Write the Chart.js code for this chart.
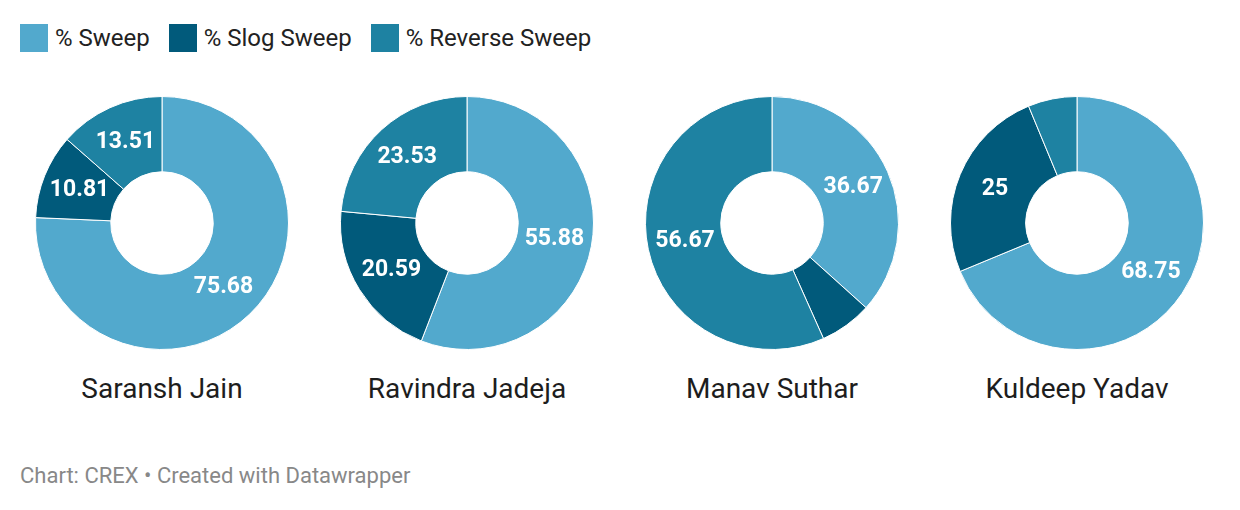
<!DOCTYPE html>
<html lang="en">
<head>
    <meta charset="UTF-8">
    <title>Sweep shots by bowler</title>
    <script src="https://cdn.jsdelivr.net/npm/chart.js"></script>
    <style>
        body { margin: 0; background: #fff; font-family: Roboto, sans-serif; }
        #wrap { position: relative; width: 1240px; height: 510px; overflow: hidden; }
        #legend { position: absolute; left: 20px; top: 24px; display: flex; align-items: center; }
        .item { display: flex; align-items: center; margin-right: 19px; font-size: 24px; color: #222; }
        .box { width: 28px; height: 28px; margin-right: 7px; }
        .pie { position: absolute; top: 95px; width: 256px; height: 256px; }
        .name { position: absolute; top: 372px; width: 300px; text-align: center; font-size: 28px; color: #1d1d1d; }
        #footer { position: absolute; left: 20px; top: 463px; font-size: 22px; color: #888; }
    </style>
</head>
<body>
<div id="wrap">
    <div id="legend"></div>
    <div id="footer">Chart: CREX • Created with Datawrapper</div>
</div>

<script>
    // data
    const players = ['Saransh Jain', 'Ravindra Jadeja', 'Manav Suthar', 'Kuldeep Yadav'];
    const shotTypes = ['% Sweep', '% Slog Sweep', '% Reverse Sweep'];
    const sweep = [75.68, 55.88, 36.67, 68.75];
    const slogSweep = [10.81, 20.59, 6.66, 25];
    const reverseSweep = [13.51, 23.53, 56.67, 6.25];

    const colors = ['#52a9cd', '#015a7b', '#1e82a2'];
    const centersX = [162, 467, 772, 1077];

    const wrap = document.getElementById('wrap');
    const legend = document.getElementById('legend');

    shotTypes.forEach((t, i) => {
        const item = document.createElement('div');
        item.className = 'item';
        item.innerHTML = '<div class="box" style="background:' + colors[i] + '"></div>' + t;
        legend.appendChild(item);
    });

    // white value labels in the middle of each slice, small slices left blank
    const sliceLabels = {
        id: 'sliceLabels',
        afterDatasetsDraw(chart) {
            const ctx = chart.ctx;
            const values = chart.data.datasets[0].data;
            ctx.save();
            ctx.font = 'bold 23px Roboto';
            ctx.fillStyle = '#fff';
            ctx.textAlign = 'center';
            ctx.textBaseline = 'middle';
            chart.getDatasetMeta(0).data.forEach((arc, i) => {
                if (values[i] < 8) return;
                const p = arc.tooltipPosition();
                ctx.fillText(String(values[i]), p.x, p.y);
            });
            ctx.restore();
        }
    };

    players.forEach((name, i) => {
        const box = document.createElement('div');
        box.className = 'pie';
        box.style.left = (centersX[i] - 128) + 'px';
        const canvas = document.createElement('canvas');
        box.appendChild(canvas);
        wrap.appendChild(box);

        const label = document.createElement('div');
        label.className = 'name';
        label.style.left = (centersX[i] - 150) + 'px';
        label.textContent = name;
        wrap.appendChild(label);

        new Chart(canvas, {
            type: 'doughnut',
            data: {
                labels: shotTypes,
                datasets: [{
                    data: [sweep[i], slogSweep[i], reverseSweep[i]],
                    backgroundColor: colors,
                    borderColor: '#fff',
                    borderWidth: 1
                }]
            },
            options: {
                responsive: true,
                maintainAspectRatio: false,
                animation: false,
                cutout: '40.5%',
                layout: { padding: 1 },
                plugins: {
                    legend: { display: false },
                    tooltip: { enabled: false }
                }
            },
            plugins: [sliceLabels]
        });
    });
</script>
</body>
</html>
